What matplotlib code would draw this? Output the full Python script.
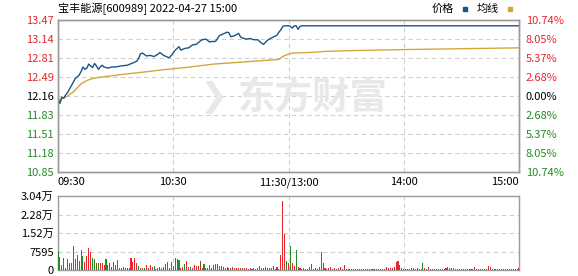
import matplotlib
matplotlib.use("Agg")
import matplotlib.pyplot as plt
import numpy as np

plt.rcParams['font.family'] = ['Noto Sans CJK SC', 'DejaVu Sans']

# price line as (minute since 09:30, price)
price_min = [0, 1, 2, 3, 4, 5, 6, 7, 8, 9, 10, 11, 12, 13, 14, 15, 16, 17, 18, 19,
             20, 21, 22, 23, 24, 26, 28, 30, 33, 36, 39, 41, 42, 43, 44, 46, 48, 50,
             52, 53, 55, 57, 58, 59, 61, 62, 63, 64, 66, 68, 70, 72, 73, 75, 77, 79,
             80, 82, 84, 86, 88, 89, 90, 92, 94, 95, 96, 98, 100, 102, 104, 106, 107,
             109, 111, 113, 114, 115, 116, 117, 118, 120, 121, 122, 123, 124, 125,
             126, 127, 130, 240]
price_val = [12.13, 12.03, 12.14, 12.12, 12.18, 12.22, 12.28, 12.34, 12.40, 12.46,
             12.49, 12.52, 12.58, 12.66, 12.62, 12.64, 12.71, 12.68, 12.65, 12.72,
             12.68, 12.62, 12.66, 12.69, 12.66, 12.64, 12.66, 12.66, 12.68, 12.69,
             12.73, 12.76, 12.81, 12.89, 12.90, 12.85, 12.86, 12.84, 12.88, 12.91,
             12.86, 12.83, 12.82, 12.86, 12.95, 12.98, 13.01, 12.95, 12.98, 12.99,
             13.04, 13.05, 13.08, 13.13, 13.14, 13.09, 13.10, 13.10, 13.20, 13.23,
             13.26, 13.25, 13.18, 13.20, 13.24, 13.18, 13.16, 13.14, 13.15, 13.13,
             13.13, 13.07, 13.05, 13.12, 13.16, 13.19, 13.21, 13.26, 13.30, 13.36,
             13.37, 13.37, 13.36, 13.33, 13.37, 13.37, 13.31, 13.36, 13.37, 13.37,
             13.37]

# average price line
avg_min = [1, 3, 5, 8, 10, 12, 14, 16, 18, 21, 26, 33, 44, 54, 66, 81, 98, 115,
           117, 119, 122, 131, 140, 150, 180, 220, 240]
avg_val = [12.10, 12.13, 12.16, 12.23, 12.30, 12.37, 12.41, 12.44, 12.46, 12.48,
           12.50, 12.53, 12.57, 12.61, 12.65, 12.71, 12.75, 12.79, 12.84, 12.87,
           12.90, 12.91, 12.93, 12.94, 12.96, 12.98, 12.99]

# per-minute volume (shares), minute 0..240
volume = [
    7800, 5450, 2000, 5000, 1000, 4600, 3000, 3000, 9800, 4400,
    6100, 3700, 8400, 5700, 3400, 5700, 9000, 7400, 5100, 4600,
    3000, 2700, 2700, 3000, 2000, 4400, 2000, 2700, 1400, 3400,
    2000, 4100, 700, 1000, 1400, 700, 700, 1000, 5000, 3400,
    5000, 2700, 1800, 1000, 700, 700, 2000, 1000, 2000, 1400,
    1800, 400, 700, 1400, 700, 1400, 2300, 3400, 1000, 3200,
    1800, 5000, 4600, 4100, 700, 1400, 2300, 3700, 1400, 1400,
    700, 2000, 1800, 1800, 3700, 700, 2300, 700, 700, 2000,
    1000, 2000, 2300, 2300, 1800, 1800, 1400, 700, 1400, 1000,
    700, 1400, 700, 700, 1000, 700, 1000, 700, 700, 600,
    700, 500, 700, 600, 700, 1800, 700, 700, 1400, 700,
    1000, 700, 1600, 500, 1200, 500, 6000, 28500, 14600, 3700,
    3000, 9800, 3000, 1600, 8200, 1400, 1000, 500, 1000, 500,
    500, 1400, 2300, 500, 1000, 500, 1400, 7400, 3000, 1000,
    500, 1000, 1400, 500, 1000, 500, 1000, 1400, 500, 2000,
    500, 500, 400, 500, 500, 400, 500, 500, 400, 500,
    500, 400, 500, 500, 400, 500, 500, 400, 500, 500,
    600, 1400, 700, 700, 1000, 1400, 3200, 3700, 2000, 700,
    400, 400, 400, 400, 1000, 1000, 400, 700, 500, 400,
    2700, 700, 400, 1400, 500, 500, 400, 500, 500, 400,
    500, 500, 1000, 1400, 700, 1000, 1000, 400, 400, 400,
    400, 400, 400, 400, 400, 400, 400, 1400, 500, 500,
    400, 500, 500, 500, 1800, 1400, 400, 400, 400, 400,
    400, 400, 400, 400, 400, 400, 400, 400, 400, 400,
    700]
# r = up, g = down, b = flat
vol_color = (
    "grgrrrrrrg" "rrrgrrrrgg" "bgrrrgrrrr" "grrrrrgrrr" "rrggrgrrrr"
    "grgrrrrrrr" "rrrgrrgrrg" "rrrrbrgrgr" "rrrrrggrrr" "grrrrgrrrr"
    "rrrrrrrrrr" "rrrrrrrrrg" "rgrrgrrrrr" "rrrrgrrrrr" "rrrrrrrrrr"
    "rrgrrrrgrr" "rrrgrrrrgr" "rrrrrrrrrr" "rgggggrrgr" "grrrrrgrrr"
    "rrrrrrrrgr" "rrrrrgrrrr" "rrrrrrrrrr" "rrrrrrrrrr" "r")

prev_close = 12.16
price_ticks = [10.85, 11.18, 11.51, 11.83, 12.16, 12.49, 12.81, 13.14, 13.47]
pct_labels = ["10.74%", "8.05%", "5.37%", "2.68%", "0.00%",
              "2.68%", "5.37%", "8.05%", "10.74%"]
vol_ticks = [0, 7595, 15190, 22785, 30380]
vol_labels = ["0", "7595", "1.52万", "2.28万", "3.04万"]
time_pos = [0, 60, 120, 180, 240]
time_labels = ["09:30", "10:30", "11:30/13:00", "14:00", "15:00"]

RED = "#e8262b"
GREEN = "#238b23"
BLUE = "#1b5585"
GOLD = "#d2a83a"
FRAME = "#9a9a9a"
GRID = "#cfcfcf"

fig = plt.figure(figsize=(5.78, 2.76), dpi=100)
ax = fig.add_axes([58/578, 1-172/276, 461/578, 152/276])
axv = fig.add_axes([58/578, 1-270/276, 461/578, 74/276])

# watermark
fig.text(238/578, 1-98/276, "东方财富", fontsize=27, fontweight="bold",
         color="#e8e8e8", ha="left", va="center", zorder=0)
fig.text(214/578, 1-98/276, "❯", fontsize=24, fontweight="bold",
         color="#e8e8e8", ha="center", va="center", zorder=0,
         family=["DejaVu Sans"])

ax.set_facecolor("none")
ax.plot(price_min, price_val, color=BLUE, lw=1.0, zorder=3)
ax.plot(avg_min, avg_val, color=GOLD, lw=1.0, zorder=2)
ax.set_xlim(0, 240)
ax.set_ylim(price_ticks[0], price_ticks[-1])
ax.set_yticks(price_ticks)
ax.set_yticklabels(["%.2f" % t for t in price_ticks])
ax.set_xticks(time_pos)
ax.set_xticklabels([])
ax.tick_params(length=0, labelsize=8, pad=3)
for lab, t in zip(ax.get_yticklabels(), price_ticks):
    lab.set_color(RED if t > prev_close + 0.001 else (GREEN if t < prev_close - 0.001 else "black"))
ax.grid(True, ls=(0, (4, 3)), color=GRID, lw=0.8)

axr = ax.twinx()
axr.set_ylim(price_ticks[0], price_ticks[-1])
axr.set_yticks(price_ticks)
axr.set_yticklabels(pct_labels)
axr.tick_params(length=0, labelsize=8, pad=5)
for lab, t in zip(axr.get_yticklabels(), price_ticks):
    lab.set_color(RED if t > prev_close + 0.001 else (GREEN if t < prev_close - 0.001 else "black"))

for a in (ax, axr, axv):
    for s in a.spines.values():
        s.set_color(FRAME)
        s.set_linewidth(1.0)

# time labels between panels
for p, l in zip(time_pos, time_labels):
    ha = "left" if p == 0 else ("right" if p == 240 else "center")
    ax.text(p, -0.035, l, transform=ax.get_xaxis_transform(), ha=ha, va="top",
            fontsize=8)

# volume panel
cmap = {"r": RED, "g": GREEN, "b": "#8b4a12"}
axv.bar(np.arange(len(volume)), volume, width=0.55, linewidth=0,
        color=[cmap[c] for c in vol_color], antialiased=False, zorder=3)
axv.set_xlim(0, 240)
axv.set_ylim(0, vol_ticks[-1])
axv.set_yticks(vol_ticks)
axv.set_yticklabels(vol_labels)
axv.set_xticks(time_pos)
axv.set_xticklabels([])
axv.tick_params(length=0, labelsize=8, pad=3)
axv.grid(True, ls=(0, (4, 3)), color=GRID, lw=0.8)

# header
fig.text(58/578, 1-9/276, "宝丰能源[600989] 2022-04-27 15:00", fontsize=8,
         ha="left", va="center")
fig.text(432/578, 1-9/276, "价格", fontsize=8, ha="left", va="center")
fig.text(477/578, 1-9/276, "均线", fontsize=8, ha="left", va="center")
fig.patches.append(plt.Rectangle((463/578, 1-10.5/276), 4/578, 3/276,
                                 transform=fig.transFigure, color=BLUE))
fig.patches.append(plt.Rectangle((508/578, 1-10.5/276), 4/578, 3/276,
                                 transform=fig.transFigure, color=GOLD))

fig.savefig("out.png", dpi=100)
